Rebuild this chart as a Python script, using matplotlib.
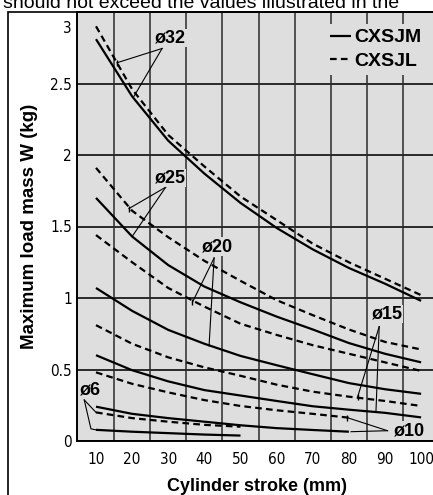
#!/usr/bin/python3

import matplotlib as mpl
mpl.use( "Agg" )
import matplotlib.pyplot as plt
from matplotlib import font_manager
from matplotlib.transforms import ScaledTranslation
from matplotlib.patches import Rectangle


# stroke (mm) for each bore size
stroke = [ 10, 20, 30, 40, 50, 60, 70, 80, 90, 100 ]
stroke_10 = [ 10, 20, 30, 40, 50, 60, 70, 80 ]
stroke_6 = [ 10, 20, 30, 40, 50 ]

# max load mass W (kg), CXSJM = solid, CXSJL = dashed
m32 = [ 2.81, 2.41, 2.10, 1.87, 1.665, 1.49, 1.34, 1.21, 1.10, 0.98 ]
l32 = [ 2.90, 2.46, 2.14, 1.92, 1.71, 1.545, 1.38, 1.25, 1.135, 1.02 ]
m25 = [ 1.70, 1.43, 1.23, 1.08, 0.97, 0.87, 0.78, 0.685, 0.61, 0.55 ]
l25 = [ 1.91, 1.61, 1.425, 1.26, 1.12, 0.985, 0.88, 0.78, 0.693, 0.64 ]
m20 = [ 1.07, 0.91, 0.777, 0.68, 0.595, 0.53, 0.467, 0.405, 0.362, 0.33 ]
l20 = [ 1.44, 1.25, 1.07, 0.94, 0.82, 0.742, 0.67, 0.61, 0.55, 0.49 ]
m15 = [ 0.60, 0.495, 0.417, 0.356, 0.318, 0.28, 0.243, 0.219, 0.197, 0.165 ]
l15 = [ 0.81, 0.68, 0.585, 0.515, 0.456, 0.394, 0.345, 0.31, 0.28, 0.245 ]
m10 = [ 0.24, 0.19, 0.16, 0.135, 0.11, 0.09, 0.077, 0.065 ]
l10 = [ 0.48, 0.40, 0.34, 0.286, 0.245, 0.215, 0.19, 0.163 ]
m6 = [ 0.078, 0.065, 0.055, 0.045, 0.038 ]
l6 = [ 0.20, 0.16, 0.135, 0.113, 0.10 ]

xtick_labels = [ "10", "20", "30", "40", "50", "60", "70", "80", "90", "100" ]
ytick_values = [ 0, 0.5, 1, 1.5, 2, 2.5, 3 ]
ytick_labels = [ "0", "0.5", "1", "1.5", "2", "2.5", "3" ]

# bore labels: text, label pos, leader start, leader ends (dashed end first)
bore_labels = [
	( "ø32", ( 30.6, 2.82 ), ( 28.3, 2.745 ), [ ( 15.8, 2.645 ), ( 20.5, 2.41 ) ] ),
	( "ø25", ( 30.5, 1.84 ), ( 29.3, 1.775 ), [ ( 19.1, 1.625 ), ( 20.0, 1.43 ) ] ),
	( "ø20", ( 43.6, 1.36 ), ( 42.7, 1.28 ), [ ( 36.7, 0.97 ), ( 41.3, 0.665 ) ] ),
	( "ø15", ( 90.6, 0.89 ), ( 88.4, 0.80 ), [ ( 82.4, 0.306 ), ( 87.5, 0.205 ) ] ),
	( "ø10", ( 96.8, 0.072 ), ( 90.7, 0.072 ), [ ( 79.6, 0.163 ), ( 80.6, 0.065 ) ] ),
]


BG = "#dedede"
GRID = "#2a2a2a"

# narrow face for the tick numbers, if there is one
tick_font = dict( fontfamily="Liberation Sans", fontsize=11.5 )
for f in font_manager.fontManager.ttflist :
	if f.name == "Liberation Sans Narrow" :
		tick_font = dict( fontfamily="Liberation Sans Narrow", fontsize=12 )
		break
	if f.name == "DejaVu Sans" and f.stretch in ( "condensed", 700 ) :
		tick_font = dict( fontfamily="DejaVu Sans", fontstretch="condensed", fontsize=11 )

plt.rcParams[ 'font.family' ] = [ 'Liberation Sans', 'DejaVu Sans' ]

fig = plt.figure( figsize=( 4.33, 4.95 ), dpi=100 )
ax = fig.add_axes( [ 77/433, 1 - 441/495, 360/433, 429/495 ] )
ax.set_facecolor( BG )

# the text of the page above the chart, mostly cut off
fig.text( 3/433, 1 - 8/495, "should not exceed the values illustrated in the",
	fontsize=14, ha="left", va="baseline" )

# outer frame round the whole chart
fig.patches.append( Rectangle( ( 8/433, -0.2 ), 1.2, 1.2 - 12/495, transform=fig.transFigure,
	fill=False, lw=1.2, ec="black" ) )

lw = 1.6
dash = ( 0, ( 3.0, 1.9 ) )

# curves
curves = [
	( stroke, m32, l32 ),
	( stroke, m25, l25 ),
	( stroke, m20, l20 ),
	( stroke, m15, l15 ),
	( stroke_10, m10, l10 ),
	( stroke_6, m6, l6 ),
]
for i, ( xs, ms, ls ) in enumerate( curves ) :
	ax.plot( xs, ms, color="black", lw=lw, solid_capstyle="butt", zorder=4,
		label="CXSJM" if i == 0 else None )
	ax.plot( xs, ls, color="black", lw=lw, linestyle=dash, zorder=4,
		label="CXSJL" if i == 0 else None )

# leader lines with bore names
for text, pos, start, ends in bore_labels :
	for k, end in enumerate( ends ) :
		ax.plot( [ start[0], end[0] ], [ start[1], end[1] ], color="black", lw=0.8, zorder=5 )
		if k == 0 :
			ax.plot( [ end[0] ], [ end[1] ], marker="|", ms=4, mew=1.0, color="black", zorder=5 )
	ax.text( pos[0], pos[1], text, fontsize=13, fontweight="bold", ha="center", va="center",
		zorder=6, bbox=dict( fc=BG, ec="none", pad=0.5 ) )

# ø6 leaders bend down to the curve starts
ax.plot( [ 6.75, 10.0 ], [ 0.287, 0.20 ], color="black", lw=0.8, zorder=5 )
ax.plot( [ 6.75, 8.6, 10.0 ], [ 0.287, 0.085, 0.078 ], color="black", lw=0.8, zorder=5 )
ax.text( 8.4, 0.357, "ø6", fontsize=13, fontweight="bold", ha="center", va="center",
	zorder=6, bbox=dict( fc=BG, ec="none", pad=0.5 ) )

ax.set_xlim( 4.74, 104.4 )
ax.set_ylim( 0, 3 )

ax.set_xticks( stroke )
ax.set_xticklabels( xtick_labels, **tick_font )
ax.set_xticks( [ s + 5 for s in stroke[:-1] ], minor=True )
ax.set_yticks( ytick_values )
ax.set_yticklabels( ytick_labels, **tick_font )
ax.tick_params( axis="x", which="both", length=0, pad=8 )
ax.tick_params( axis="y", which="both", length=0, pad=3.6 )

# top label "3" sits under the top edge
lab3 = ax.get_yticklabels()[-1]
lab3.set_transform( lab3.get_transform() + ScaledTranslation( 0, -11/72, fig.dpi_scale_trans ) )

ax.grid( which="minor", axis="x", color=GRID, lw=1.1 )
ax.grid( which="major", axis="y", color=GRID, lw=1.4 )
ax.grid( which="major", axis="x", visible=False )
ax.set_axisbelow( True )

for side in [ "left", "bottom", "top" ] :
	ax.spines[ side ].set_linewidth( 1.4 )
ax.spines[ "right" ].set_visible( False )

ax.set_xlabel( "Cylinder stroke (mm)", fontsize=13, fontweight="bold", labelpad=7.5 )
ax.set_ylabel( "Maximum load mass W (kg)", fontsize=13.5, fontweight="bold", labelpad=9 )

leg = ax.legend( loc="upper left", bbox_to_anchor=( 325/433, 1 - 24/495 ), bbox_transform=fig.transFigure,
	borderaxespad=0, frameon=True, facecolor=BG, edgecolor="none", framealpha=1, fancybox=False,
	borderpad=0.25, labelspacing=0.32, handlelength=1.1, handletextpad=0.15,
	prop=dict( size=14, weight="bold" ) )
leg.set_zorder( 7 )

fig.savefig( "out.png", dpi=100 )
